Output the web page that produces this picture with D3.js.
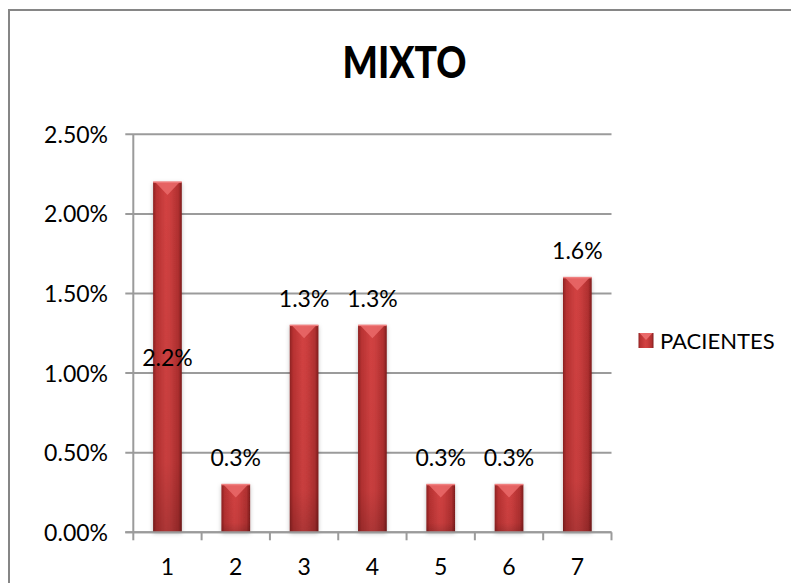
<!DOCTYPE html>
<html>
<head>
<meta charset="utf-8">
<script src="https://cdn.jsdelivr.net/npm/d3@7"></script>
<style>
  html, body { margin: 0; padding: 0; background: #fff; }
  svg { display: block; }
  text { font-family: "Lato", "Open Sans", sans-serif; fill: #000; }
</style>
</head>
<body>
<svg id="chart" width="791" height="583"></svg>
<script>
// ---- data ----
const categories = ["1", "2", "3", "4", "5", "6", "7"];
const values = [0.022, 0.003, 0.013, 0.013, 0.003, 0.003, 0.016];
const valueLabels = ["2.2%", "0.3%", "1.3%", "1.3%", "0.3%", "0.3%", "1.6%"];
const yTicks = [0, 0.005, 0.01, 0.015, 0.02, 0.025];
const yTickLabels = ["0.00%", "0.50%", "1.00%", "1.50%", "2.00%", "2.50%"];
const seriesName = "PACIENTES";
const chartTitle = "MIXTO";

// ---- layout ----
const svg = d3.select("#chart");
const plot = { left: 133.3, right: 611.5, top: 134.3, bottom: 532.3 };

const x = d3.scaleBand().domain(categories).range([plot.left, plot.right])
  .paddingInner(0.58).paddingOuter(0.29);
const xSlot = d3.scaleBand().domain(categories).range([plot.left, plot.right]).padding(0);
const y = d3.scaleLinear().domain([0, 0.025]).range([plot.bottom, plot.top]);

const defs = svg.append("defs");
const grad = defs.append("linearGradient").attr("id", "barGrad")
  .attr("x1", "0%").attr("x2", "100%").attr("y1", "0%").attr("y2", "0%");
grad.append("stop").attr("offset", "0%").attr("stop-color", "#8e2222");
grad.append("stop").attr("offset", "12%").attr("stop-color", "#b83232");
grad.append("stop").attr("offset", "45%").attr("stop-color", "#d24242");
grad.append("stop").attr("offset", "60%").attr("stop-color", "#cc3e3e");
grad.append("stop").attr("offset", "88%").attr("stop-color", "#b03030");
grad.append("stop").attr("offset", "100%").attr("stop-color", "#7e1c1c");

const vgrad = defs.append("linearGradient").attr("id", "barShade")
  .attr("x1", "0%").attr("x2", "0%").attr("y1", "0%").attr("y2", "100%");
vgrad.append("stop").attr("offset", "0%").attr("stop-color", "#000").attr("stop-opacity", 0);
vgrad.append("stop").attr("offset", "80%").attr("stop-color", "#000").attr("stop-opacity", 0.05);
vgrad.append("stop").attr("offset", "100%").attr("stop-color", "#000").attr("stop-opacity", 0.18);

const filt = defs.append("filter").attr("id", "shadow")
  .attr("x", "-30%").attr("y", "-10%").attr("width", "160%").attr("height", "120%");
filt.append("feDropShadow").attr("dx", 0).attr("dy", 1).attr("stdDeviation", 2)
  .attr("flood-color", "#000").attr("flood-opacity", 0.25);

// outer border
svg.append("rect").attr("x", 9).attr("y", 10).attr("width", 800).attr("height", 600)
  .attr("fill", "#fff").attr("stroke", "#868686").attr("stroke-width", 2);

// title
svg.append("text").attr("x", 404.5).attr("y", 78).attr("text-anchor", "middle")
  .attr("font-size", 44).attr("font-weight", "900")
  .attr("textLength", 124).attr("lengthAdjust", "spacingAndGlyphs")
  .text(chartTitle);

// gridlines
svg.append("g").selectAll("line").data(yTicks).join("line")
  .attr("x1", plot.left - 8).attr("x2", plot.right)
  .attr("y1", d => y(d)).attr("y2", d => y(d))
  .attr("stroke", "#9b9b9b").attr("stroke-width", 2);

// y axis line
svg.append("line").attr("x1", plot.left).attr("x2", plot.left)
  .attr("y1", plot.top).attr("y2", plot.bottom)
  .attr("stroke", "#9b9b9b").attr("stroke-width", 2);

// y labels
svg.append("g").selectAll("text").data(yTicks).join("text")
  .attr("x", 108).attr("y", d => y(d) + 8.5).attr("text-anchor", "end")
  .attr("font-size", 23).text((d, i) => yTickLabels[i]);

// x tick marks at slot boundaries
const bounds = categories.map(c => xSlot(c)).concat([plot.right]);
svg.append("g").selectAll("line").data(bounds).join("line")
  .attr("x1", d => d).attr("x2", d => d)
  .attr("y1", plot.bottom).attr("y2", plot.bottom + 8)
  .attr("stroke", "#9b9b9b").attr("stroke-width", 2);

// bars
const bars = svg.append("g").selectAll("g").data(values).join("g");
bars.append("rect")
  .attr("x", (d, i) => x(categories[i])).attr("width", x.bandwidth())
  .attr("y", d => y(d)).attr("height", d => y(0) - y(d))
  .attr("fill", "url(#barGrad)").attr("filter", "url(#shadow)");
bars.append("rect")
  .attr("x", (d, i) => x(categories[i])).attr("width", x.bandwidth())
  .attr("y", d => y(d)).attr("height", d => y(0) - y(d))
  .attr("fill", "url(#barShade)");
// top bevel
bars.append("path")
  .attr("d", (d, i) => {
    const x0 = x(categories[i]), w = x.bandwidth(), t = y(d);
    const h = Math.min(13, (y(0) - t) * 0.35);
    return `M${x0 + 2},${t} L${x0 + w - 2},${t} L${x0 + w / 2},${t + h} Z`;
  })
  .attr("fill", "#ea6a6a").attr("opacity", 0.85);
bars.append("path")
  .attr("d", (d, i) => {
    const x0 = x(categories[i]), w = x.bandwidth(), t = y(d);
    return `M${x0},${t} L${x0 + w},${t}`;
  })
  .attr("stroke", "#f08080").attr("stroke-width", 1.5);

// x axis line (drawn over bars' bottom)
svg.append("line").attr("x1", plot.left - 8).attr("x2", plot.right)
  .attr("y1", plot.bottom).attr("y2", plot.bottom)
  .attr("stroke", "#9b9b9b").attr("stroke-width", 2);

// x labels
svg.append("g").selectAll("text").data(categories).join("text")
  .attr("x", d => x(d) + x.bandwidth() / 2).attr("y", 574.5)
  .attr("text-anchor", "middle").attr("font-size", 23).text(d => d);

// data labels (first one sits lower, over the bar, as in the original)
svg.append("g").selectAll("text").data(values).join("text")
  .attr("x", (d, i) => x(categories[i]) + x.bandwidth() / 2)
  .attr("y", (d, i) => i === 0 ? y(0.01045) : y(d) - 18.5)
  .attr("text-anchor", "middle").attr("font-size", 23)
  .text((d, i) => valueLabels[i]);

// legend
const lg = svg.append("g");
lg.append("rect").attr("x", 638.5).attr("y", 333).attr("width", 15).attr("height", 15)
  .attr("fill", "url(#barGrad)");
lg.append("path").attr("d", "M639.5,333 L652.5,333 L646,340 Z").attr("fill", "#ea6a6a");
lg.append("text").attr("x", 660).attr("y", 348.5).attr("font-size", 22).text(seriesName);
</script>
</body>
</html>
